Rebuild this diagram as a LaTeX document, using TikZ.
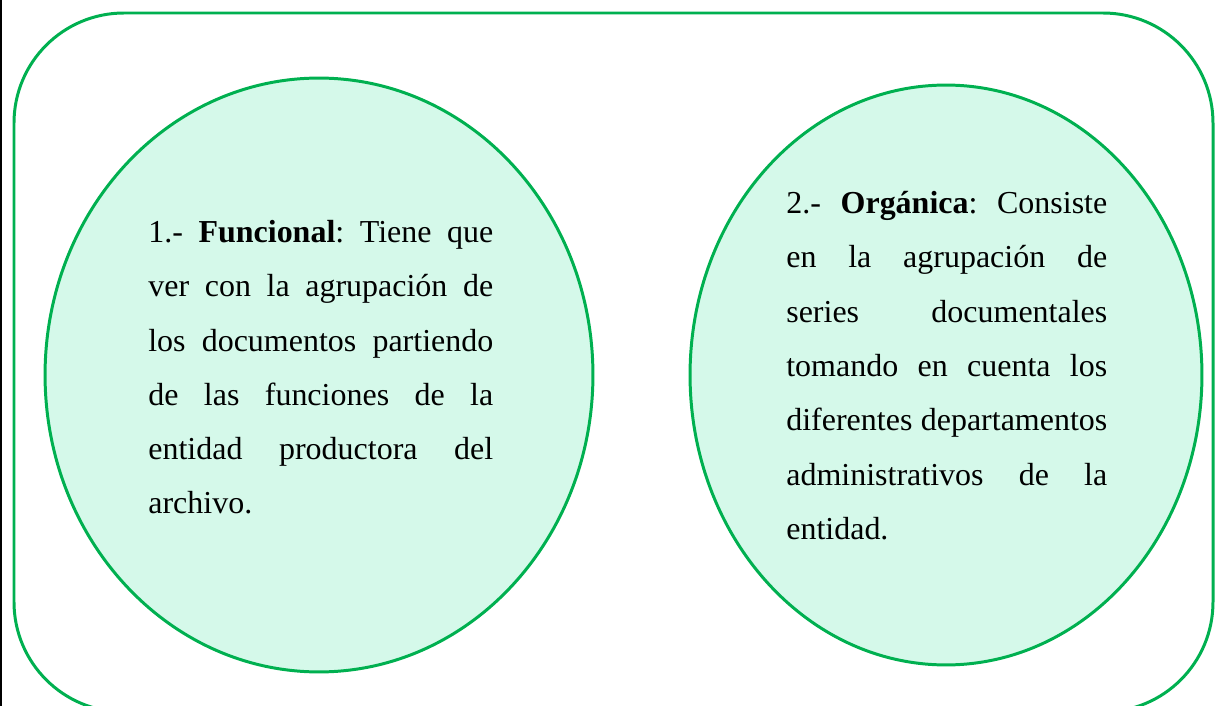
\documentclass[tikz,border=0pt]{standalone}
\usepackage{fontspec}
\setmainfont{Liberation Serif}
\usetikzlibrary{shapes.geometric}
\hyphenpenalty=10000
\exhyphenpenalty=10000
\frenchspacing
\begin{document}
\begin{tikzpicture}[x=0.02cm, y=-0.02cm]
            \definecolor{Fcolor}{RGB}{213, 249, 234}
            \definecolor{Lcolor}{RGB}{0, 176, 80}
            \def\linewd{1.7pt}
            \def\fontsz{18.2pt}
            \def\skipsz{30.9pt}
            \useasboundingbox (0,0) rectangle (1215,706);
            \clip (0,0) rectangle (1215,706);
            \fill[black] (0,0) rectangle (2,706);
            \draw[Lcolor, line width=\linewd, rounded corners=2.2cm] (14,13) rectangle (1213,712);
            \node[draw=Lcolor, shape=ellipse, fill=Fcolor, line width=\linewd, minimum width=10.96cm, minimum height=11.88cm] (E1) at (319,375) {};
            \node[draw=Lcolor, shape=ellipse, fill=Fcolor, line width=\linewd, minimum width=10.24cm, minimum height=11.6cm] (E2) at (946,375) {};
            \node[anchor=north west, inner sep=0pt, text width=6.9cm, align=justify, font=\fontsize{\fontsz}{\skipsz}\selectfont] (T1) at (148,220) {\noindent 1.- \textbf{Funcional}: Tiene que\linebreak ver con la agrupación de\linebreak los documentos partiendo\linebreak de las funciones de la\linebreak entidad productora del\linebreak archivo.};
            \node[anchor=north west, inner sep=0pt, text width=6.42cm, align=justify, font=\fontsize{\fontsz}{\skipsz}\selectfont] (T2) at (786,191) {\noindent 2.- \textbf{Orgánica}: Consiste\linebreak en la agrupación de\linebreak series documentales\linebreak tomando en cuenta los\linebreak diferentes departamentos\linebreak administrativos de la\linebreak entidad.};
        \end{tikzpicture}
\end{document}
